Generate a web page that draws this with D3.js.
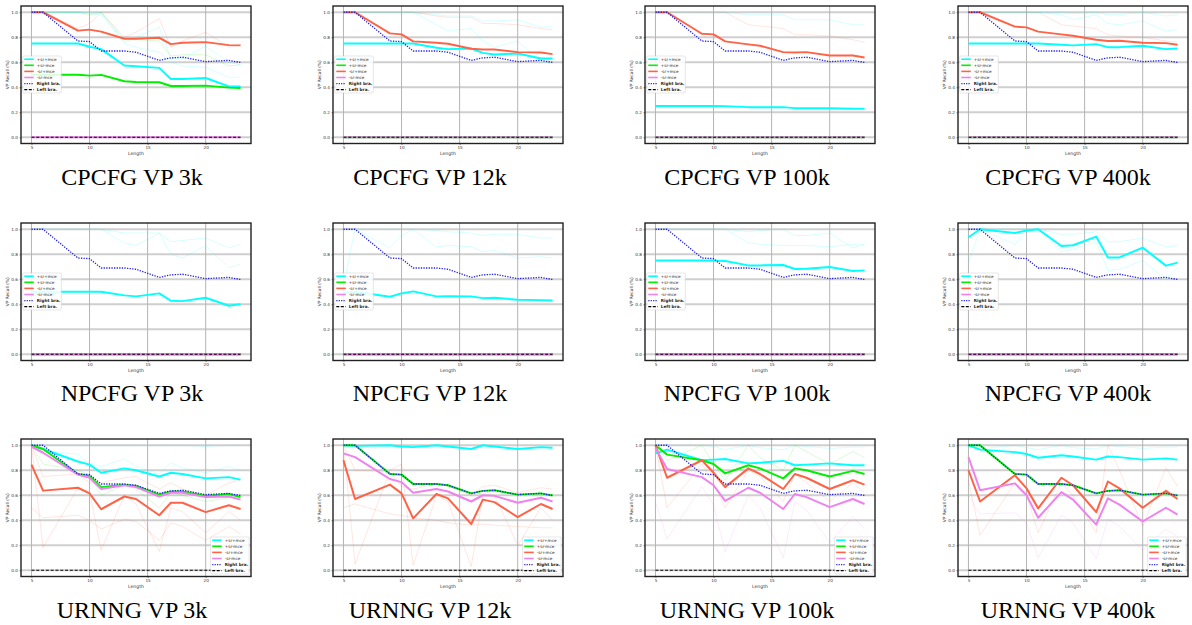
<!DOCTYPE html>
<html>
<head>
<meta charset="utf-8">
<script src="https://cdn.jsdelivr.net/npm/d3@7"></script>
<style>
  body { margin: 0; background: #fff; }
  text { font-family: "DejaVu Sans", sans-serif; }
  .title { font-family: "Liberation Serif", "Times New Roman", serif; }
</style>
</head>
<body>
<div id="chart"></div>
<script>
// sentence lengths on the x axis
var lengths = [5, 6, 9, 10, 11, 13, 14, 16, 17, 18, 20, 22, 23];
var seriesNames = ["+sr+mce", "+sr-mce", "-sr+mce", "-sr-mce", "Right bra.", "Left bra."];
var seriesColors = ["#00ffff", "#00ee00", "#ff6347", "#ee82ee", "#2222dd", "#000000"];
var xTicks = [5, 10, 15, 20];
var yTicks = [0.0, 0.2, 0.4, 0.6, 0.8, 1.0];

var rightBra = [1.0, 1.0, 0.77, 0.765, 0.69, 0.69, 0.68, 0.615, 0.635, 0.64, 0.605, 0.615, 0.598];
var leftBra  = [0, 0, 0, 0, 0, 0, 0, 0, 0, 0, 0, 0, 0];
var zeros    = [0, 0, 0, 0, 0, 0, 0, 0, 0, 0, 0, 0, 0];

// mean curves: [+sr+mce, +sr-mce, -sr+mce, -sr-mce]
var cpcfg3k = [
  [0.75, 0.75, 0.75, 0.724, 0.705, 0.574, 0.568, 0.555, 0.466, 0.466, 0.474, 0.407, 0.407],
  [0.5, 0.5, 0.5, 0.493, 0.499, 0.448, 0.442, 0.44, 0.41, 0.41, 0.413, 0.397, 0.394],
  [1.0, 1.0, 0.853, 0.861, 0.845, 0.788, 0.788, 0.796, 0.745, 0.756, 0.761, 0.737, 0.735],
  zeros
];
var cpcfg12k = [
  [0.75, 0.75, 0.75, 0.75, 0.75, 0.716, 0.705, 0.71, 0.675, 0.662, 0.67, 0.63, 0.63],
  zeros,
  [1.0, 1.0, 0.831, 0.823, 0.767, 0.756, 0.748, 0.708, 0.702, 0.702, 0.681, 0.678, 0.665],
  zeros
];
var cpcfg100k = [
  [0.25, 0.25, 0.25, 0.25, 0.249, 0.241, 0.241, 0.241, 0.233, 0.233, 0.233, 0.228, 0.228],
  zeros,
  [1.0, 1.0, 0.828, 0.823, 0.767, 0.743, 0.732, 0.681, 0.678, 0.681, 0.654, 0.654, 0.638],
  zeros
];
var cpcfg400k = [
  [0.75, 0.75, 0.75, 0.75, 0.75, 0.74, 0.735, 0.745, 0.721, 0.721, 0.732, 0.705, 0.71],
  zeros,
  [1.0, 1.0, 0.885, 0.879, 0.845, 0.823, 0.812, 0.78, 0.77, 0.772, 0.756, 0.753, 0.74],
  zeros
];
var npcfg3k = [
  [0.5, 0.5, 0.5, 0.5, 0.5, 0.471, 0.463, 0.487, 0.428, 0.425, 0.452, 0.388, 0.401],
  zeros, zeros, zeros
];
var npcfg12k = [
  [0.49, 0.5, 0.46, 0.487, 0.503, 0.463, 0.465, 0.463, 0.449, 0.452, 0.436, 0.433, 0.43],
  zeros, zeros, zeros
];
var npcfg100k = [
  [0.75, 0.75, 0.75, 0.749, 0.746, 0.711, 0.711, 0.714, 0.682, 0.684, 0.698, 0.666, 0.671],
  zeros, zeros, zeros
];
var npcfg400k = [
  [0.936, 1.0, 0.97, 0.99, 1.0, 0.866, 0.872, 0.941, 0.775, 0.775, 0.853, 0.709, 0.733],
  zeros, zeros, zeros
];
var urnng3k = [
  [1.0, 0.97, 0.87, 0.845, 0.78, 0.815, 0.8, 0.75, 0.78, 0.77, 0.735, 0.745, 0.725],
  [1.0, 0.97, 0.77, 0.755, 0.665, 0.685, 0.675, 0.605, 0.63, 0.63, 0.595, 0.61, 0.585],
  [0.845, 0.637, 0.66, 0.615, 0.488, 0.59, 0.57, 0.44, 0.54, 0.54, 0.465, 0.52, 0.49],
  [0.99, 0.94, 0.765, 0.74, 0.65, 0.68, 0.665, 0.59, 0.62, 0.62, 0.585, 0.59, 0.565]
];
var urnng12k = [
  [1.0, 0.995, 1.0, 0.99, 0.985, 1.0, 0.99, 0.97, 1.0, 0.99, 0.97, 0.985, 0.98],
  [1.0, 1.0, 0.77, 0.765, 0.69, 0.69, 0.68, 0.615, 0.635, 0.64, 0.605, 0.615, 0.598],
  [0.88, 0.57, 0.685, 0.615, 0.415, 0.61, 0.575, 0.37, 0.565, 0.545, 0.425, 0.53, 0.49],
  [0.935, 0.905, 0.73, 0.705, 0.62, 0.65, 0.63, 0.55, 0.6, 0.595, 0.54, 0.58, 0.55]
];
var urnng100k = [
  [0.935, 0.965, 0.88, 0.885, 0.89, 0.855, 0.86, 0.875, 0.84, 0.845, 0.855, 0.84, 0.84],
  [1.0, 0.925, 0.88, 0.85, 0.775, 0.84, 0.815, 0.735, 0.815, 0.8, 0.75, 0.795, 0.77],
  [1.0, 0.74, 0.88, 0.78, 0.665, 0.815, 0.77, 0.65, 0.77, 0.74, 0.65, 0.72, 0.685],
  [0.98, 0.81, 0.745, 0.68, 0.555, 0.66, 0.62, 0.49, 0.61, 0.585, 0.505, 0.57, 0.53]
];
var urnng400k = [
  [1.0, 0.965, 0.945, 0.93, 0.9, 0.92, 0.91, 0.885, 0.91, 0.905, 0.885, 0.895, 0.885],
  [1.0, 1.0, 0.77, 0.765, 0.69, 0.69, 0.68, 0.615, 0.635, 0.64, 0.605, 0.615, 0.598],
  [0.8, 0.55, 0.76, 0.655, 0.495, 0.74, 0.68, 0.465, 0.71, 0.655, 0.5, 0.635, 0.57],
  [0.905, 0.64, 0.695, 0.6, 0.42, 0.625, 0.565, 0.365, 0.575, 0.525, 0.39, 0.5, 0.445]
];

// single runs drawn faintly behind the means: [series index, values]
var cpcfg3kRuns = [
  [1, [1, 1, 1, 0.98, 1, 0.78, 0.78, 0.77, 0.65, 0.66, 0.66, 0.57, 0.58]],
  [2, [1, 1, 0.87, 0.91, 1, 0.8, 0.84, 0.95, 0.72, 0.77, 0.84, 0.72, 0.74]],
  [0, [1, 1, 1, 0.99, 0.98, 0.76, 0.8, 0.88, 0.63, 0.63, 0.73, 0.6, 0.58]],
  [0, [1, 1, 1, 1, 1, 0.75, 0.72, 0.68, 0.6, 0.57, 0.56, 0.48, 0.48]]
];
var cpcfg12kRuns = [
  [0, [1, 1, 1, 1, 1, 0.9, 0.85, 0.87, 0.77, 0.72, 0.77, 0.6, 0.6]],
  [0, [1, 1, 1, 1, 1, 0.98, 0.97, 0.97, 0.93, 0.93, 0.94, 0.88, 0.89]],
  [2, [1, 1, 1, 1, 1, 0.97, 0.96, 0.96, 0.91, 0.91, 0.9, 0.87, 0.86]]
];
var cpcfg100kRuns = [
  [0, [1, 1, 1, 1, 1, 0.98, 0.98, 0.98, 0.94, 0.94, 0.94, 0.9, 0.9]],
  [2, [1, 1, 1, 1, 1, 0.9, 0.89, 0.87, 0.82, 0.82, 0.81, 0.78, 0.76]]
];
var cpcfg400kRuns = [
  [0, [1, 1, 1, 1, 1, 0.98, 0.94, 0.98, 0.91, 0.9, 0.93, 0.85, 0.86]],
  [0, [1, 1, 1, 1, 1, 1, 0.99, 1, 0.98, 0.98, 1, 0.97, 0.98]],
  [2, [1, 1, 1, 1, 1, 0.9, 0.89, 0.87, 0.82, 0.81, 0.8, 0.77, 0.76]]
];
var npcfg3kRuns = [
  [0, [1, 1, 1, 1, 1, 0.97, 0.97, 0.97, 0.9, 0.91, 0.93, 0.85, 0.88]],
  [0, [1, 1, 1, 1, 1, 0.89, 0.87, 0.97, 0.8, 0.77, 0.87, 0.69, 0.72]]
];
var npcfg12kRuns = [
  [0, [0.55, 1, 0.85, 0.95, 1, 0.86, 0.87, 0.86, 0.82, 0.83, 0.77, 0.78, 0.77]],
  [0, [1, 1, 1, 1, 1, 0.99, 0.98, 0.97, 0.95, 0.96, 0.96, 0.93, 0.93]]
];
var npcfg100kRuns = [
  [0, [1, 1, 1, 1, 1, 0.98, 0.99, 1, 0.95, 0.95, 0.97, 0.85, 0.88]],
  [0, [1, 1, 1, 1, 1, 0.89, 0.88, 0.87, 0.87, 0.87, 0.86, 0.88, 0.88]]
];
var npcfg400kRuns = [
  [0, [0.73, 1, 0.88, 0.98, 1, 0.82, 0.84, 0.9, 0.67, 0.68, 0.75, 0.6, 0.7]],
  [0, [1, 1, 1, 1, 1, 0.96, 0.96, 0.98, 0.9, 0.9, 0.93, 0.86, 0.87]]
];
var urnng3kRuns = [
  [2, [0.5, 0.42, 0.44, 0.4, 0.33, 0.41, 0.39, 0.24, 0.38, 0.35, 0.24, 0.35, 0.29]],
  [2, [1, 0.18, 0.66, 0.63, 0.16, 0.6, 0.53, 0.15, 0.5, 0.47, 0.3, 0.47, 0.4]],
  [2, [1, 0.75, 0.77, 0.7, 0.7, 0.74, 0.75, 0.65, 0.7, 0.65, 0.6, 0.7, 0.72]],
  [0, [1, 0.95, 0.93, 0.85, 0.83, 0.89, 0.83, 0.77, 0.86, 0.82, 0.78, 0.83, 0.8]],
  [0, [1, 1, 1, 1, 1, 1, 1, 1, 1, 1, 0.99, 1, 1]],
  [1, [1, 0.85, 0.8, 0.76, 0.6, 0.68, 0.65, 0.5, 0.62, 0.6, 0.55, 0.58, 0.57]]
];
var urnng12kRuns = [
  [2, [1, 0.05, 0.8, 0.85, 0.04, 0.6, 0.55, 0.03, 0.6, 0.6, 0.2, 0.5, 0.4]],
  [2, [0.5, 0.53, 0.45, 0.44, 0.42, 0.4, 0.38, 0.36, 0.37, 0.36, 0.35, 0.34, 0.34]],
  [2, [1, 0.8, 0.79, 0.67, 0.65, 0.69, 0.67, 0.6, 0.67, 0.68, 0.62, 0.66, 0.65]]
];
var urnng100kRuns = [
  [3, [0.55, 0.25, 0.67, 0.52, 0.15, 0.6, 0.5, 0.1, 0.55, 0.48, 0.22, 0.43, 0.33]],
  [2, [1, 0.5, 0.85, 0.7, 0.5, 0.8, 0.75, 0.55, 0.77, 0.7, 0.55, 0.7, 0.62]],
  [1, [1, 0.88, 1, 0.85, 0.72, 1, 0.9, 0.8, 1, 0.95, 0.85, 0.95, 0.9]],
  [0, [1, 1, 1, 0.99, 0.965, 1, 0.98, 0.965, 1, 0.99, 0.975, 0.985, 0.985]]
];
var urnng400kRuns = [
  [2, [0.72, 0.28, 0.7, 0.6, 0.3, 0.7, 0.6, 0.3, 1, 0.8, 0.35, 0.82, 0.67]],
  [3, [0.6, 0.45, 0.46, 0.38, 0.1, 0.44, 0.38, 0.09, 0.41, 0.35, 0.16, 0.33, 0.27]],
  [0, [1, 0.97, 1, 0.98, 0.965, 1, 0.98, 0.97, 1, 0.99, 0.975, 0.985, 0.985]]
];

var titles = [
  ["CPCFG VP 3k", "CPCFG VP 12k", "CPCFG VP 100k", "CPCFG VP 400k"],
  ["NPCFG VP 3k", "NPCFG VP 12k", "NPCFG VP 100k", "NPCFG VP 400k"],
  ["URNNG VP 3k", "URNNG VP 12k", "URNNG VP 100k", "URNNG VP 400k"]
];
var means = [
  [cpcfg3k, cpcfg12k, cpcfg100k, cpcfg400k],
  [npcfg3k, npcfg12k, npcfg100k, npcfg400k],
  [urnng3k, urnng12k, urnng100k, urnng400k]
];
var runs = [
  [cpcfg3kRuns, cpcfg12kRuns, cpcfg100kRuns, cpcfg400kRuns],
  [npcfg3kRuns, npcfg12kRuns, npcfg100kRuns, npcfg400kRuns],
  [urnng3kRuns, urnng12kRuns, urnng100kRuns, urnng400kRuns]
];

// layout
var W = 1192, H = 625;
var colLeft = [21, 333, 645, 958];
var rowTop = [6, 223, 439];
var plotW = 230, plotH = 137.5;
var titleX = [132, 430, 747, 1068];
var titleY = [185, 401, 618];

var svg = d3.select("#chart").append("svg")
  .attr("width", W)
  .attr("height", H);

var x = d3.scaleLinear().domain([4.1, 23.9]).range([0, plotW]);
var y = d3.scaleLinear().domain([-0.05, 1.05]).range([plotH, 0]);

var line = d3.line()
  .x(function(d, i) { return x(lengths[i]); })
  .y(function(d) { return y(d); });

function drawPanel(r, c) {
  var g = svg.append("g")
    .attr("transform", "translate(" + colLeft[c] + "," + rowTop[r] + ")");

  // grid
  g.append("g").selectAll("line").data(yTicks).join("line")
    .attr("x1", 0).attr("x2", plotW)
    .attr("y1", function(d) { return y(d); })
    .attr("y2", function(d) { return y(d); })
    .attr("stroke", "#cfcfcf").attr("stroke-width", 1.8);
  g.append("g").selectAll("line").data(xTicks).join("line")
    .attr("y1", 0).attr("y2", plotH)
    .attr("x1", function(d) { return x(d); })
    .attr("x2", function(d) { return x(d); })
    .attr("stroke", "#b4b4b4").attr("stroke-width", 1);

  // axes
  var xAxis = g.append("g")
    .attr("transform", "translate(0," + plotH + ")")
    .call(d3.axisBottom(x).tickValues(xTicks).tickSize(1.5).tickPadding(1.5).tickFormat(d3.format("d")));
  var yAxis = g.append("g")
    .call(d3.axisLeft(y).tickValues(yTicks).tickSize(1.5).tickPadding(1.5).tickFormat(d3.format(".1f")));
  [xAxis, yAxis].forEach(function(a) {
    a.select(".domain").remove();
    a.selectAll("text").attr("font-size", 4.2).attr("fill", "#333");
    a.selectAll("line").attr("stroke", "#333").attr("stroke-width", 0.6);
  });

  g.append("text")
    .attr("x", plotW / 2).attr("y", plotH + 11.5)
    .attr("text-anchor", "middle")
    .attr("font-size", 4.6).attr("fill", "#333")
    .text("Length");
  g.append("text")
    .attr("transform", "translate(-12.5," + (plotH / 2) + ") rotate(-90)")
    .attr("text-anchor", "middle")
    .attr("font-size", 4.4).attr("fill", "#333")
    .text("VP Recall (%)");

  // faint individual runs
  runs[r][c].forEach(function(run) {
    g.append("path")
      .datum(run[1])
      .attr("d", line)
      .attr("fill", "none")
      .attr("stroke", seriesColors[run[0]])
      .attr("stroke-width", 0.9)
      .attr("stroke-opacity", 0.18);
  });

  // mean curves
  means[r][c].forEach(function(vals, k) {
    g.append("path")
      .datum(vals)
      .attr("d", line)
      .attr("fill", "none")
      .attr("stroke", seriesColors[k])
      .attr("stroke-width", 2)
      .attr("stroke-linejoin", "round");
  });

  g.append("path")
    .datum(rightBra)
    .attr("d", line)
    .attr("fill", "none")
    .attr("stroke", seriesColors[4])
    .attr("stroke-width", 1.3)
    .attr("stroke-dasharray", "1.3,1.3");
  g.append("path")
    .datum(leftBra)
    .attr("d", line)
    .attr("fill", "none")
    .attr("stroke", seriesColors[5])
    .attr("stroke-width", 1.2)
    .attr("stroke-dasharray", "3,1.8");

  // frame
  g.append("rect")
    .attr("width", plotW).attr("height", plotH)
    .attr("fill", "none")
    .attr("stroke", "#222").attr("stroke-width", 1.4);

  // legend
  var lw = 38.5, lh = 37;
  var lx = r < 2 ? 1.8 : plotW - lw - 1.8;
  var ly = r < 2 ? 50 : plotH - lh - 2.5;
  var leg = g.append("g").attr("transform", "translate(" + lx + "," + ly + ")");
  leg.append("rect")
    .attr("width", lw).attr("height", lh).attr("rx", 1)
    .attr("fill", "#fff").attr("fill-opacity", 0.85)
    .attr("stroke", "#ccc").attr("stroke-width", 0.5);
  seriesNames.forEach(function(name, k) {
    var yy = 3.2 + k * 6.1;
    var ln = leg.append("line")
      .attr("x1", 1.5).attr("x2", 11)
      .attr("y1", yy).attr("y2", yy)
      .attr("stroke", seriesColors[k])
      .attr("stroke-width", k < 4 ? 1.6 : 1.2);
    if (k === 4) ln.attr("stroke-dasharray", "1.2,1.2");
    if (k === 5) ln.attr("stroke-dasharray", "3,1.5");
    leg.append("text")
      .attr("x", 14).attr("y", yy + 1.5)
      .attr("font-size", 4.2)
      .attr("font-weight", k >= 4 ? "bold" : "normal")
      .attr("fill", "#222")
      .text(name);
  });

  svg.append("text")
    .attr("class", "title")
    .attr("x", titleX[c]).attr("y", titleY[r])
    .attr("text-anchor", "middle")
    .attr("font-size", 24)
    .attr("fill", "#000")
    .text(titles[r][c]);
}

for (var r = 0; r < 3; r++) {
  for (var c = 0; c < 4; c++) {
    drawPanel(r, c);
  }
}
</script>
</body>
</html>
